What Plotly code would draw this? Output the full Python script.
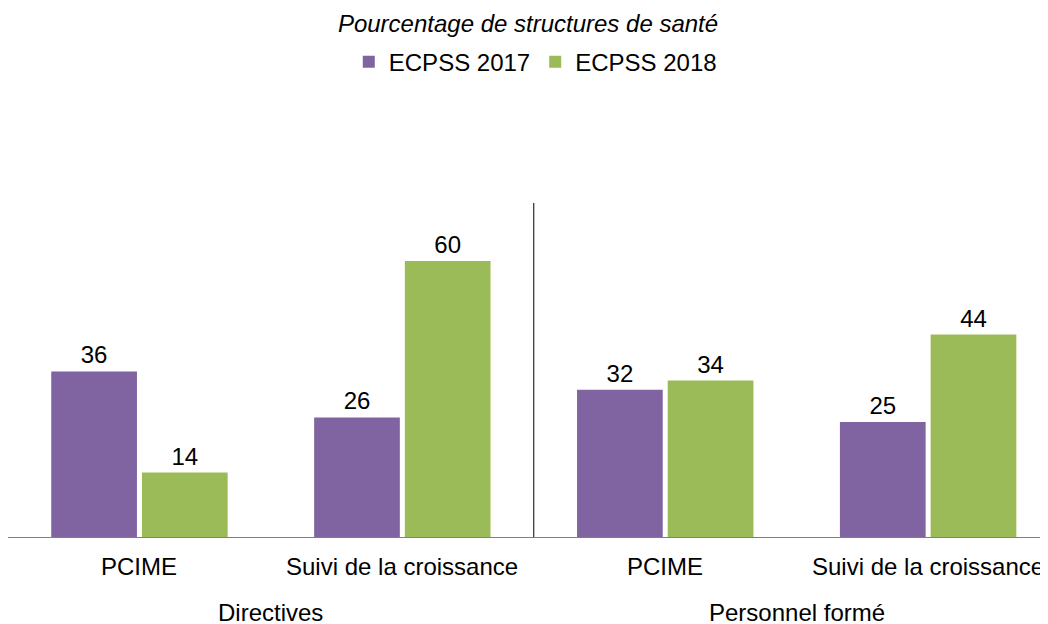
import plotly.graph_objects as go

# data
categories = ["PCIME", "Suivi de la croissance", "PCIME", "Suivi de la croissance"]
groups = ["Directives", "Personnel formé"]
ecpss_2017 = [36, 26, 32, 25]
ecpss_2018 = [14, 60, 34, 44]

PURPLE = "#8064A2"
GREEN = "#9BBB59"
FONT = "Liberation Sans, Arial, sans-serif"

xpos = list(range(len(categories)))

fig = go.Figure()
fig.add_trace(go.Bar(x=xpos, y=ecpss_2017, name="ECPSS 2017",
                     marker=dict(color=PURPLE, line=dict(width=0)),
                     text=ecpss_2017, textposition="outside",
                     textfont=dict(size=24, color="black"),
                     cliponaxis=False))
fig.add_trace(go.Bar(x=xpos, y=ecpss_2018, name="ECPSS 2018",
                     marker=dict(color=GREEN, line=dict(width=0)),
                     text=ecpss_2018, textposition="outside",
                     textfont=dict(size=24, color="black"),
                     cliponaxis=False))

# category labels under the axis
for i, c in enumerate(categories):
    fig.add_annotation(x=i, y=0, xref="x", yref="y", text=c, showarrow=False,
                       yanchor="middle", yshift=-29,
                       font=dict(size=24, color="black", family=FONT))

# group labels
for g, (a, b) in zip(groups, [(0, 1), (2, 3)]):
    fig.add_annotation(x=(a + b) / 2, y=0, xref="x", yref="y", text=g,
                       showarrow=False, yanchor="middle", yshift=-75,
                       font=dict(size=24, color="black", family=FONT))

# divider between the two groups
fig.add_shape(type="line", x0=1.5, x1=1.5, xref="x", y0=0, y1=1, yref="paper",
              line=dict(color="black", width=1))

# the page body adds 8px around the figure, so the figure is 8px smaller
# and shifted up/left to land where the reference has it
fig.update_layout(
    width=1040, height=616,
    margin=dict(l=0, r=0, t=195, b=87),
    paper_bgcolor="white", plot_bgcolor="white",
    barmode="group", bargap=0.31, bargroupgap=0.055,
    font=dict(family=FONT, size=24, color="black"),
    title=dict(text="<i>Pourcentage de structures de santé</i>",
               x=0.5, xanchor="center", y=1 - 16 / 616, yanchor="middle",
               font=dict(size=24, color="black")),
    legend=dict(orientation="h", x=0.507, xanchor="center", y=1.422, yanchor="middle",
                font=dict(size=24, color="black"), itemwidth=30),
    showlegend=True,
    xaxis=dict(range=[-0.5, 3.456], showticklabels=False, showgrid=False,
               zeroline=False, showline=True, linecolor="#808080", linewidth=1,
               ticks=""),
    yaxis=dict(range=[0, 72.6], visible=False, showgrid=False, zeroline=False),
)

fig.write_html("out.html")
